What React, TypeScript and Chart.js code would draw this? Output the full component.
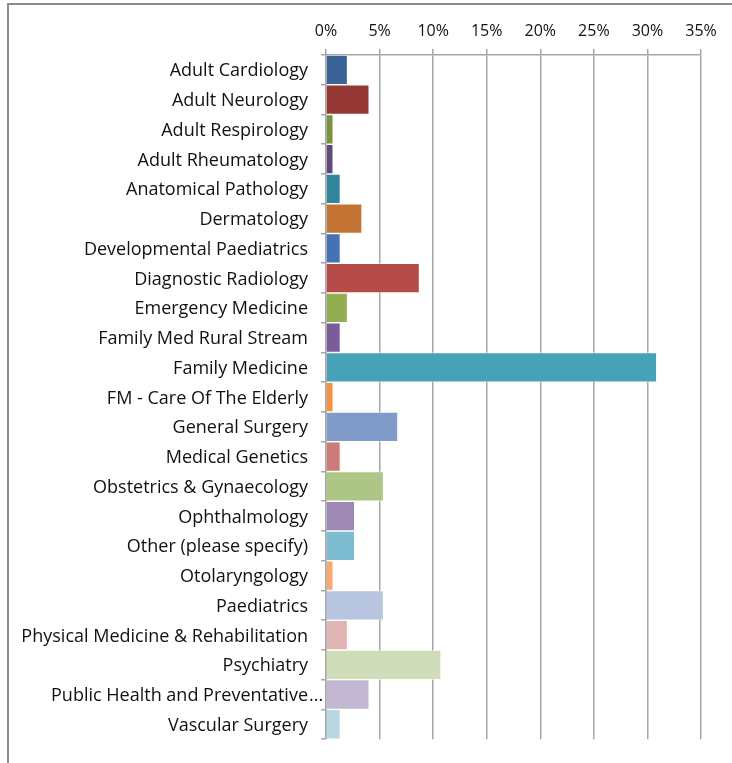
import React, { useEffect, useRef } from "react";
import { Chart, registerables } from "chart.js";

Chart.register(...registerables);

const categories: string[] = [
  "Adult Cardiology",
  "Adult Neurology",
  "Adult Respirology",
  "Adult Rheumatology",
  "Anatomical Pathology",
  "Dermatology",
  "Developmental Paediatrics",
  "Diagnostic Radiology",
  "Emergency Medicine",
  "Family Med Rural Stream",
  "Family Medicine",
  "FM - Care Of The Elderly",
  "General Surgery",
  "Medical Genetics",
  "Obstetrics & Gynaecology",
  "Ophthalmology",
  "Other (please specify)",
  "Otolaryngology",
  "Paediatrics",
  "Physical Medicine & Rehabilitation",
  "Psychiatry",
  "Public Health and Preventative...",
  "Vascular Surgery",
];

const percentages: number[] = [
  2.01, 4.03, 0.67, 0.67, 1.34, 3.36, 1.34, 8.72, 2.01, 1.34, 30.87, 0.67,
  6.71, 1.34, 5.37, 2.68, 2.68, 0.67, 5.37, 2.01, 10.74, 4.03, 1.34,
];

const barColors: string[] = [
  "#3A6496", "#953735", "#77933C", "#604A7B", "#31859C", "#C37434",
  "#4472B4", "#B44B48", "#91AF50", "#7A5C9A", "#47A1B8", "#F39241",
  "#7F9BC8", "#CD7B79", "#AEC685", "#9D89B4", "#7DBBD0", "#FAA871",
  "#B8C5E0", "#E0B4B3", "#CFDDB8", "#C3B8D2", "#B5D6E2",
];

const xTicks: number[] = [0, 5, 10, 15, 20, 25, 30, 35];

const ELLIPSIS = "...";

export default function App() {
  const ref = useRef<HTMLCanvasElement | null>(null);

  useEffect(() => {
    if (!ref.current) return;
    const family = "'Open Sans', sans-serif";
    const labelFont = { family, size: 18 };
    const tickPad = 13;
    const tickLen = 5;
    const labelOffset = 1.5;

    // Excel lets a truncated label's ellipsis overflow past the label column
    const ellipsisPlugin = {
      id: "ellipsisOverflow",
      afterDraw(chart: any) {
        const y = chart.scales.y;
        const ctx = chart.ctx;
        ctx.save();
        ctx.font = `${labelFont.size}px ${family}`;
        ctx.fillStyle = "#111";
        ctx.textAlign = "left";
        ctx.textBaseline = "middle";
        categories.forEach((c, i) => {
          if (c.endsWith(ELLIPSIS)) {
            const py = y.getPixelForTick(i) + labelOffset;
            ctx.fillText(ELLIPSIS, y.right - tickLen - tickPad + 1, py);
          }
        });
        ctx.restore();
      },
    };

    const chart = new Chart(ref.current, {
      type: "bar",
      data: {
        labels: categories,
        datasets: [
          {
            data: percentages,
            backgroundColor: barColors,
            borderColor: "rgba(255,255,255,0.55)",
            borderWidth: 1,
            barPercentage: 1,
            categoryPercentage: 1,
          },
        ],
      },
      options: {
        indexAxis: "y",
        responsive: true,
        maintainAspectRatio: false,
        animation: false,
        layout: { padding: { left: 0, right: 31, top: 0, bottom: 20 } },
        plugins: { legend: { display: false }, tooltip: { enabled: false } },
        scales: {
          x: {
            position: "top",
            min: 0,
            max: 35,
            afterBuildTicks: (s: any) => {
              s.ticks = xTicks.map((v) => ({ value: v }));
            },
            afterFit: (s: any) => {
              s.height = 55;
            },
            ticks: {
              callback: (v: any) => v + "%",
              color: "#111",
              font: { family, size: 16 },
              padding: 8,
              maxRotation: 0,
            },
            grid: {
              color: "#a6a6a6",
              lineWidth: 1.5,
              tickLength: 6,
              drawOnChartArea: true,
            },
            border: { display: true, color: "#a6a6a6", width: 1.5 },
          },
          y: {
            afterFit: (s: any) => {
              s.width = 326;
            },
            ticks: {
              color: "#111",
              font: labelFont,
              padding: tickPad,
              labelOffset,
              autoSkip: false,
              callback: (_v: any, i: number) => {
                const c = categories[i];
                return c.endsWith(ELLIPSIS) ? c.slice(0, -ELLIPSIS.length) : c;
              },
            },
            grid: {
              offset: true,
              drawOnChartArea: false,
              color: "#a6a6a6",
              lineWidth: 1.5,
              tickLength: tickLen,
            },
            border: { display: true, color: "#a6a6a6", width: 1.5 },
          },
        },
      },
      plugins: [ellipsisPlugin],
    });
    return () => chart.destroy();
  }, []);

  return (
    <div
      style={{
        position: "absolute",
        left: 0,
        top: 0,
        width: 732,
        height: 763,
        background: "#fff",
        overflow: "hidden",
      }}
    >
      <div
        style={{
          position: "absolute",
          left: 7,
          top: 3,
          width: 740,
          height: 780,
          borderLeft: "2px solid #8c8c8c",
          borderTop: "2px solid #8c8c8c",
        }}
      />
      <div style={{ position: "absolute", left: 0, top: 0, width: 732, height: 763 }}>
        <canvas ref={ref} />
      </div>
    </div>
  );
}
